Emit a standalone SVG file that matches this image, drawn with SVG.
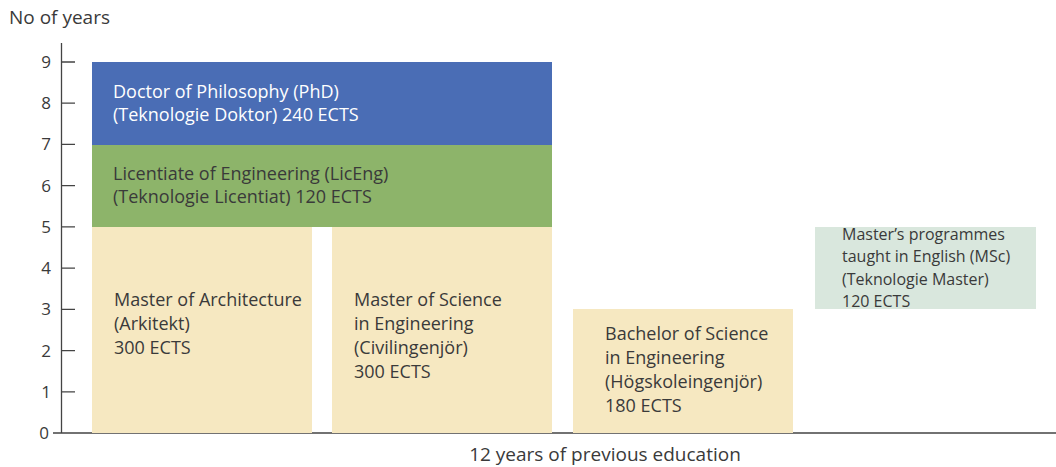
<svg xmlns="http://www.w3.org/2000/svg" width="1056" height="467" viewBox="0 0 1056 467">
<style>
text{font-family:"Open Sans","Liberation Sans",sans-serif;font-size:18px;fill:#3a3a3a}
.w{fill:#ffffff}
.s{font-size:16px}
.ax{stroke:#444;stroke-width:1.3;fill:none}
.num{text-anchor:end;font-size:17px}
</style>
<rect width="1056" height="467" fill="#ffffff"/>
<text x="9" y="24" style="font-size:19px">No of years</text>
<g id="axis">
<path class="ax" d="M61.5 43V433M53 433H1056"/>
<path class="ax" d="M61 62H75M61 103.2H75M61 144.4H75M61 185.7H75M61 226.9H75M61 268.1H75M61 309.3H75M61 350.6H75M61 391.8H75"/>
<text class="num" x="51" y="68">9</text>
<text class="num" x="51" y="109">8</text>
<text class="num" x="51" y="150">7</text>
<text class="num" x="51" y="192">6</text>
<text class="num" x="51" y="233">5</text>
<text class="num" x="51" y="274">4</text>
<text class="num" x="51" y="315">3</text>
<text class="num" x="51" y="357">2</text>
<text class="num" x="51" y="398">1</text>
<text class="num" x="49" y="439">0</text>
</g>
<g id="phd">
<rect x="92" y="62" width="460" height="83" fill="#4a6db5"/>
<text class="w" x="113" y="98">Doctor of Philosophy (PhD)</text>
<text class="w" x="113" y="121">(Teknologie Doktor) 240 ECTS</text>
</g>
<g id="liceng">
<rect x="92" y="145" width="460" height="82" fill="#8db46a"/>
<text x="113" y="180">Licentiate of Engineering (LicEng)</text>
<text x="113" y="203">(Teknologie Licentiat) 120 ECTS</text>
</g>
<g id="arch">
<rect x="92" y="227" width="220" height="206" fill="#f6e8c1"/>
<text x="114" y="306">Master of Architecture</text>
<text x="114" y="330">(Arkitekt)</text>
<text x="114" y="354">300 ECTS</text>
</g>
<g id="msceng">
<rect x="332" y="227" width="220" height="206" fill="#f6e8c1"/>
<text x="354" y="306">Master of Science</text>
<text x="354" y="330">in Engineering</text>
<text x="354" y="354">(Civilingenjör)</text>
<text x="354" y="378">300 ECTS</text>
</g>
<g id="bsc">
<rect x="573" y="309" width="220" height="124" fill="#f6e8c1"/>
<text x="605" y="340">Bachelor of Science</text>
<text x="605" y="364">in Engineering</text>
<text x="605" y="388">(Högskoleingenjör)</text>
<text x="605" y="412">180 ECTS</text>
</g>
<g id="msc">
<rect x="815" y="227" width="221" height="82" fill="#d9e7dd"/>
<text class="s" x="842" y="240">Master’s programmes</text>
<text class="s" x="842" y="262">taught in English (MSc)</text>
<text class="s" x="842" y="285">(Teknologie Master)</text>
<text class="s" x="842" y="307">120 ECTS</text>
</g>
<g id="connectors"></g>
<text x="605" y="461" text-anchor="middle" style="font-size:19px">12 years of previous education</text>
</svg>
